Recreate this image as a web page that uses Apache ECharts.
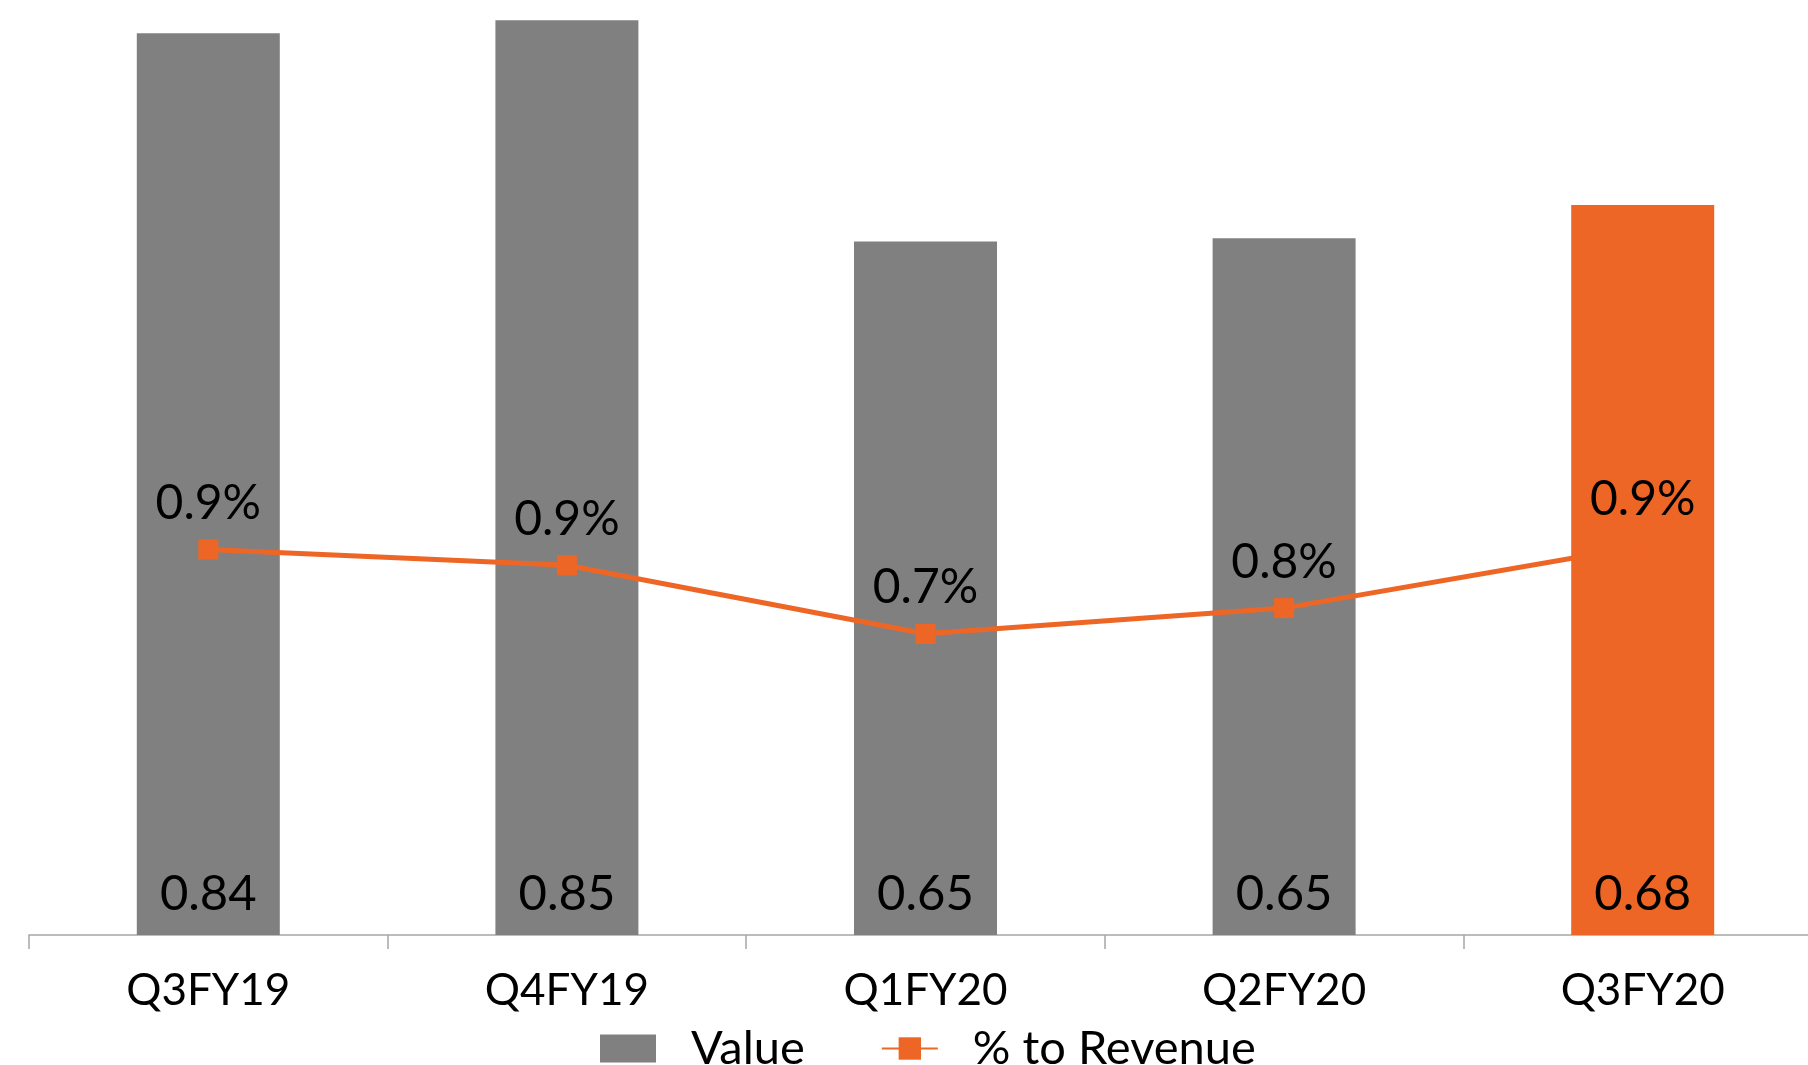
<!DOCTYPE html>
<html>
<head>
<meta charset="utf-8">
<script src="https://cdn.jsdelivr.net/npm/echarts@6/dist/echarts.min.js"></script>
<style>
  html, body { margin: 0; padding: 0; background: #fff; }
  #chart { width: 1808px; height: 1065px; }
</style>
</head>
<body>
<div id="chart"></div>
<script>
// data
const categories = ["Q3FY19", "Q4FY19", "Q1FY20", "Q2FY20", "Q3FY20"];
const valueData = [0.84, 0.852, 0.646, 0.649, 0.68];
const pctData = [0.90, 0.863, 0.703, 0.763, 0.908];
const highlightIndex = 4;

const grey = "#808080";
const orange = "#EE6625";
const font = "Lato";

let myChart = echarts.init(document.getElementById("chart"));

const barData = valueData.map((v, i) => {
  if (i === highlightIndex) {
    return { value: v, itemStyle: { color: orange } };
  }
  return v;
});

let option = {
  animation: false,
  textStyle: { fontFamily: font },
  grid: {
    left: 29,
    width: 1793,
    top: 1,
    bottom: 130,
    outerBoundsMode: "none",
  },
  legend: {
    left: 595,
    top: 1020,
    itemWidth: 56,
    itemHeight: 28,
    itemGap: 76,
    textStyle: {
      fontFamily: font,
      fontSize: 47,
      color: "#000",
      padding: [0, 0, 0, 30],
    },
    data: [
      { name: "Value", icon: "rect" },
      { name: "% to Revenue", itemStyle: { borderWidth: 0 } },
    ],
  },
  xAxis: [
    {
      type: "category",
      data: categories,
      axisLine: { lineStyle: { color: "#A6A6A6", width: 1.5 } },
      axisTick: { show: true, length: 14, lineStyle: { color: "#A6A6A6", width: 1.5 } },
      axisLabel: {
        fontFamily: font,
        fontSize: 44,
        color: "#000",
        margin: 34,
      },
    },
  ],
  yAxis: [
    { type: "value", min: 0, max: 0.87, show: false },
    { type: "value", min: 0, max: 2.18, show: false },
  ],
  series: [
    {
      name: "Value",
      type: "bar",
      barWidth: 143,
      itemStyle: { color: grey },
      label: {
        show: true,
        position: "insideBottom",
        distance: 16,
        fontFamily: font,
        fontSize: 49,
        color: "#000",
        formatter: (p) => p.value.toFixed(2),
      },
      data: barData,
    },
    {
      name: "% to Revenue",
      type: "line",
      yAxisIndex: 1,
      color: orange,
      symbol: "rect",
      symbolSize: 20,
      lineStyle: { width: 5, color: orange },
      itemStyle: { color: orange },
      label: {
        show: true,
        position: "top",
        distance: 12,
        fontFamily: font,
        fontSize: 48,
        color: "#000",
        formatter: (p) => p.value.toFixed(1) + "%",
      },
      z: 3,
      data: pctData,
    },
  ],
};

option && myChart.setOption(option);
window.addEventListener("resize", function () {
  myChart && myChart.resize();
});
</script>
</body>
</html>
